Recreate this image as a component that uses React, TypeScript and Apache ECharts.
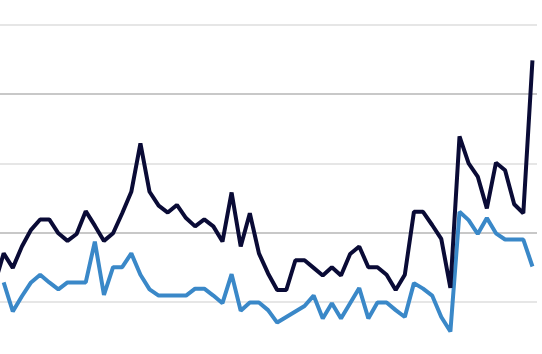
import React, { useEffect, useRef } from "react";
import * as echarts from "echarts";

const categories: string[] = Array.from({ length: 60 }, (_, i) => String(i + 1));

const seriesDark: (number | null)[] = [
  12.5, 17.0, 14.9, 18.0, 20.4, 21.9, 21.9, 19.9, 18.8, 19.8,
  23.1, 21.0, 18.8, 19.9, 22.8, 25.9, 32.9, 25.9, 23.9, 22.9,
  24.0, 22.1, 20.9, 21.9, 20.9, 18.7, 25.8, 18.0, 22.8, 17.0,
  14.1, 11.7, 11.7, 16.0, 16.0, 14.9, 13.8, 15.0, 13.8, 16.9,
  18.0, 15.0, 15.0, 13.9, 11.7, 13.9, 23.0, 23.0, 21.1, 19.1,
  12.0, 33.9, 30.0, 28.1, 23.5, 30.1, 29.0, 24.1, 22.8, 44.9,
];

const seriesBlue: (number | null)[] = [
  null, 12.8, 8.6, 10.8, 12.8, 13.9, 12.8, 11.8, 12.8, 12.8,
  12.8, 18.7, 11.0, 15.0, 15.0, 17.0, 13.9, 11.8, 10.9, 10.9,
  10.9, 10.9, 11.9, 11.9, 10.9, 9.8, 14.0, 8.7, 9.9, 9.9,
  8.8, 7.0, 7.8, 8.6, 9.4, 10.9, 7.6, 9.8, 7.6, 9.8,
  12.0, 7.6, 9.9, 9.9, 8.8, 7.8, 12.7, 11.9, 10.9, 7.8,
  5.7, 23.0, 21.8, 19.8, 22.1, 19.9, 19.0, 19.0, 19.0, 15.1,
];

const yMin = 0;
const yMax = 50;
const yInterval = 10;

export default function App() {
  const ref = useRef<HTMLDivElement>(null);
  useEffect(() => {
    if (!ref.current) return;
    const chart = echarts.init(ref.current, undefined, { renderer: "svg" });
    chart.setOption({
      animation: false,
      backgroundColor: "#ffffff",
      grid: { left: 0, right: 0, top: 25, bottom: 0, containLabel: false },
      xAxis: {
        type: "category",
        data: categories,
        boundaryGap: true,
        axisLine: { show: false },
        axisTick: { show: false },
        axisLabel: { show: false },
        splitLine: { show: false },
      },
      yAxis: {
        type: "value",
        min: yMin,
        max: yMax,
        interval: yInterval,
        axisLine: { show: false },
        axisTick: { show: false },
        axisLabel: { show: false },
        splitLine: {
          show: true,
          lineStyle: { color: ["#c8c8c8", "#e6e6e6"], width: 2 },
        },
      },
      series: [
        {
          type: "line",
          data: seriesDark,
          symbol: "none",
          lineStyle: { color: "#0a0b36", width: 4 },
          z: 3,
        },
        {
          type: "line",
          data: seriesBlue,
          symbol: "none",
          lineStyle: { color: "#3a88c8", width: 4 },
          z: 2,
        },
      ],
    });
    return () => chart.dispose();
  }, []);
  return (
    <div
      style={{
        position: "fixed",
        left: 0,
        top: 0,
        width: 542,
        height: 354,
        overflow: "hidden",
        background: "#ffffff",
      }}
    >
      <div
        ref={ref}
        style={{ position: "absolute", left: -10.4, top: 0, width: 547, height: 371.25 }}
      />
    </div>
  );
}
